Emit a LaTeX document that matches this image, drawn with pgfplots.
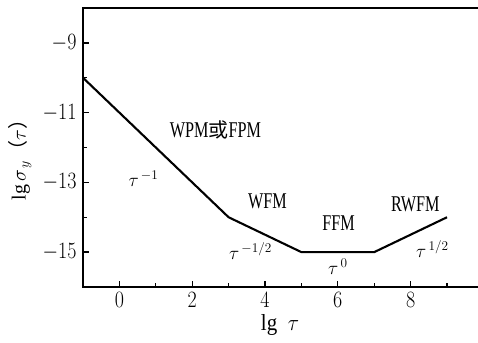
\documentclass[border=0pt]{standalone}
\usepackage{fix-cm}
\usepackage{pgfplots}
\pgfplotsset{compat=1.18}
\usetikzlibrary{calc}
\usepackage{fontspec}
\setmainfont{Liberation Serif}
\newfontfamily\cjk{Noto Sans CJK SC}
\newfontfamily\lab[FakeStretch=0.72]{Liberation Serif}
\begin{document}
\begin{tikzpicture}
\begin{axis}[
  name=ax,
  at={(0,0)}, anchor=south west,
  scale only axis, width=400.4pt, height=279pt,
  xmin=-1, xmax=10, ymin=-16, ymax=-8,
  xtick={0,2,4,6,8}, minor xtick={1,3,5,7,9},
  ytick={-15,-13,-11,-9}, minor ytick={-14,-12,-10},
  xtick pos=bottom, ytick pos=left,
  tick align=inside,
  major tick length=6pt, minor tick length=4pt,
  every tick/.style={black, line width=1.3pt},
  axis line style={line width=1.8pt},
  ticklabel style={font=\fontsize{20}{24}\selectfont},
  xticklabel={\scalebox{1}[1.17]{$\pgfmathprintnumber{\tick}$}},
  yticklabel={\scalebox{1}[1.17]{$\pgfmathprintnumber{\tick}$}},
  xticklabel style={yshift=-2pt},
  yticklabel style={xshift=-3pt},
  xlabel={\fontsize{21}{24}\selectfont\scalebox{1}[1.1]{lg\ \ $\tau$}},
  x label style={at={(axis description cs:0.492,0)}, anchor=center, yshift=-38pt},
  ylabel={\fontsize{20}{24}\selectfont lg\,$\sigma_{\,y}${\cjk （}$\tau${\cjk ）}},
  y label style={at={(axis description cs:0,0.473)}, anchor=center, yshift=63pt},
]
\addplot[black, line width=2.1pt] coordinates {(-1,-10) (3,-14) (5,-15) (7,-15) (9,-14)};
\node[font=\fontsize{22.5}{26}\selectfont\lab] at (axis cs:2.64,-11.49) {WPM{\cjk\fontsize{20}{22}\selectfont 或}FPM};
\node[font=\fontsize{22.5}{26}\selectfont\lab] at (axis cs:4.07,-13.54) {WFM};
\node[font=\fontsize{22.5}{26}\selectfont\lab] at (axis cs:6.02,-14.17) {FFM};
\node[font=\fontsize{22.5}{26}\selectfont\lab] at (axis cs:8.13,-13.63) {RWFM};
\node[font=\fontsize{19}{22}\selectfont] at (axis cs:0.66,-12.9) {$\tau^{\,-1}$};
\node[font=\fontsize{19}{22}\selectfont] at (axis cs:3.6,-14.97) {$\tau^{\,-1/2}$};
\node[font=\fontsize{19}{22}\selectfont] at (axis cs:6.0,-15.43) {$\tau^{\,0}$};
\node[font=\fontsize{19}{22}\selectfont] at (axis cs:8.6,-14.91) {$\tau^{\,1/2}$};
\end{axis}
\pgfresetboundingbox
\path ($(ax.south west)+(-83pt,-55pt)$) rectangle ($(ax.south west)+(395pt,287pt)$);
\end{tikzpicture}
\end{document}
